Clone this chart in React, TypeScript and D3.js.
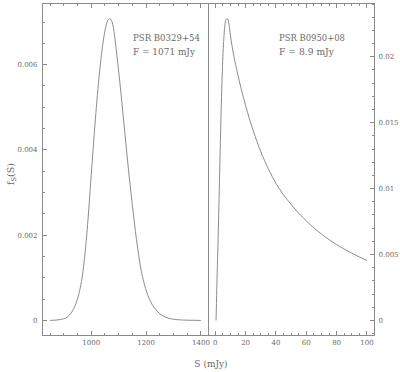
import React from 'react';
import * as d3 from 'd3';

// B0329+54 : flux density S (mJy) and probability f_S(S)
const leftS = [850, 875, 900, 920, 940, 955, 970, 985, 1000, 1015, 1030, 1045, 1058, 1068, 1080, 1093, 1105, 1118, 1136, 1150, 1165, 1180, 1198, 1216, 1240, 1270, 1310, 1350, 1400];
const leftF = [0, 0.00001, 0.00004, 0.00012, 0.00033, 0.00062, 0.00115, 0.0021, 0.0034, 0.0047, 0.0058, 0.0066, 0.007, 0.00708, 0.0069, 0.00625, 0.00555, 0.0047, 0.00353, 0.0027, 0.0019, 0.00125, 0.00075, 0.00045, 0.00022, 0.00008, 0.00002, 0.000005, 0];

// B0950+08
const rightS = [0.5, 1, 2, 3, 4, 5, 6, 7, 8, 9, 10, 12, 14, 17, 20, 25, 30, 35, 40, 50, 60, 70, 80, 90, 100];
const rightF = [0, 0.0025, 0.0068, 0.0118, 0.0165, 0.02, 0.022, 0.0228, 0.0229, 0.0225, 0.0216, 0.0202, 0.0191, 0.0176, 0.0163, 0.0144, 0.0128, 0.0115, 0.0104, 0.0088, 0.00755, 0.00655, 0.00575, 0.0051, 0.00455];

const leftXTicks = [1000, 1200, 1400];
const leftYTicks = [0, 0.002, 0.004, 0.006];
const leftYLabels = ['0', '0.002', '0.004', '0.006'];
const rightXTicks = [0, 20, 40, 60, 80, 100];
const rightYTicks = [0, 0.005, 0.01, 0.015, 0.02];
const rightYLabels = ['0', '0.005', '0.01', '0.015', '0.02'];

const top = 3.5, bottom = 335.5;
const frame = '#8a8a8a';
const ink = '#6a6a6a';
const font = 'DejaVu Serif';

function pad (vals) {
  const [a, b] = d3.extent(vals);
  const r = b - a;
  return [a - 0.05 * r, b + 0.05 * r];
}

function Panel ({ x0, x1, S, F, xTicks, xMinor, yTicks, yLabels, yMinor, side, title, sub }) {
  const x = d3.scaleLinear().domain(pad(S)).range([x0, x1]);
  const fmax = d3.max(F);
  const y = d3.scaleLinear().domain([-0.05 * fmax, 1.05 * fmax]).range([bottom, top]);
  const line = d3.line().x((d) => x(d[0])).y((d) => y(d[1])).curve(d3.curveMonotoneX);
  const pts = S.map((s, i) => [s, F[i]]);
  const [dx0, dx1] = x.domain();
  const [dy0, dy1] = y.domain();
  const xm = d3.range(Math.ceil(dx0 / xMinor) * xMinor, dx1, xMinor);
  const ym = d3.range(Math.ceil(dy0 / yMinor) * yMinor, dy1, yMinor);
  const isMajor = (v, list) => list.some((t) => Math.abs(t - v) < 1e-9);
  const yAxisX = side === 'left' ? x0 : x1;
  const dir = side === 'left' ? 1 : -1;

  return (
    <g>
      <g shapeRendering="crispEdges">
        <rect x={x0} y={top} width={x1 - x0} height={bottom - top} fill="none" stroke={frame} strokeWidth={1} />
        {xm.map((v) => {
          const len = isMajor(v, xTicks) ? 4.5 : 2.5;
          return (
            <g key={'x' + v}>
              <line x1={x(v)} x2={x(v)} y1={bottom} y2={bottom - len} stroke={frame} />
              <line x1={x(v)} x2={x(v)} y1={top} y2={top + len} stroke={frame} />
            </g>
          );
        })}
        {ym.map((v) => {
          const len = isMajor(v, yTicks) ? 4.5 : 2.5;
          return <line key={'y' + v} x1={yAxisX} x2={yAxisX + dir * len} y1={y(v)} y2={y(v)} stroke={frame} />;
        })}
      </g>
      {xTicks.map((t) => (
        <text key={'xl' + t} x={x(t)} y={345} textAnchor="middle" fontSize={7} fill={ink} fontFamily={font}>{t}</text>
      ))}
      {yTicks.map((t, i) => (
        <text key={'yl' + t} x={side === 'left' ? x0 - 5 : x1 + 4} y={y(t) + 2.5}
          textAnchor={side === 'left' ? 'end' : 'start'} fontSize={7} fill={ink} fontFamily={font}>{yLabels[i]}</text>
      ))}
      <path d={line(pts)} fill="none" stroke="#8c8c8c" strokeWidth={1} />
      <text x={title.x} y={40.5} fontSize={8.5} fill={ink} fontFamily={font} textLength={title.w} lengthAdjust="spacingAndGlyphs">{title.text}</text>
      <text x={title.x} y={54.5} fontSize={8.5} fill={ink} fontFamily={font} textLength={sub.w} lengthAdjust="spacingAndGlyphs">{sub.text}</text>
    </g>
  );
}

export default function App () {
  return (
    <svg width={400} height={372} style={{ position: 'absolute', left: 0, top: 0, background: '#fff' }}>
      <Panel x0={42.5} x1={208.5} S={leftS} F={leftF} xTicks={leftXTicks} xMinor={50}
        yTicks={leftYTicks} yLabels={leftYLabels} yMinor={0.0005} side="left"
        title={{ x: 133, text: 'PSR B0329+54', w: 67 }} sub={{ text: 'F = 1071 mJy', w: 62 }} />
      <Panel x0={208.5} x1={374.5} S={rightS} F={rightF} xTicks={rightXTicks} xMinor={5}
        yTicks={rightYTicks} yLabels={rightYLabels} yMinor={0.001} side="right"
        title={{ x: 279, text: 'PSR B0950+08', w: 66 }} sub={{ text: 'F = 8.9 mJy', w: 55 }} />
      <text x={211} y={367} textAnchor="middle" fontSize={9} fill={ink} fontFamily={font}>S (mJy)</text>
      <text transform="translate(14,174) rotate(-90)" textAnchor="middle" fontSize={9.5} fill={ink} fontFamily={font}>
        f<tspan fontSize={6.5} dy={2}>S</tspan><tspan dy={-2}>(S)</tspan>
      </text>
    </svg>
  );
}
